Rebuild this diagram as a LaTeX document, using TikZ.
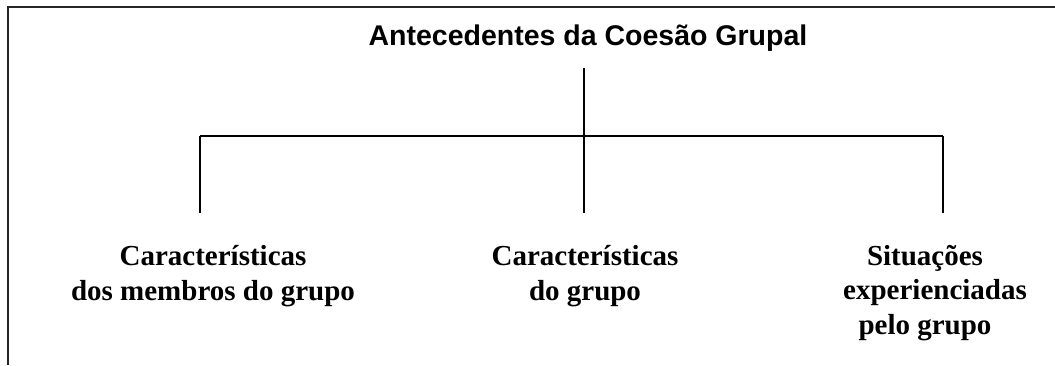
\documentclass[tikz,border=0pt]{standalone}
\usepackage{fontspec}
\setmainfont{Liberation Serif}
\newfontfamily\titlefont{Liberation Sans}
\begin{document}
\begin{tikzpicture}[x=1pt,y=-1pt,
  conn/.style={draw=black,line width=2.2pt},
  frameline/.style={draw=black!85,line width=2.2pt},
  titlebox/.style={inner sep=0pt,font=\titlefont\bfseries\fontsize{28.5}{34}\selectfont},
  labelbox/.style={inner sep=0pt,align=center,font=\bfseries\fontsize{29}{34.5}\selectfont}]
\useasboundingbox (0,0) rectangle (1055,365);
% frame (top and left edges only)
\draw[frameline] (1055,7) -- (8,7) -- (8,365);
% title
\node[titlebox,anchor=base] (title) at (588,45) {Antecedentes da Coesão Grupal};
% connector points
\coordinate (tstart) at (584,68);
\coordinate (jm) at (584,136);
\coordinate (jl) at (200,136);
\coordinate (jr) at (943,136);
\coordinate (el) at (200,213);
\coordinate (em) at (584,213);
\coordinate (er) at (943,213);
\draw[conn] (tstart) -- (jm);
\draw[conn] (jl) -- (jr);
\draw[conn] (jl) -- (el);
\draw[conn] (jm) -- (em);
\draw[conn] (jr) -- (er);
% labels (base anchor = last line baseline)
\node[labelbox,anchor=base] (l1) at (213,300) {Características\\dos membros do grupo};
\node[labelbox,anchor=base] (l2) at (585,300) {Características\\do grupo};
\node[labelbox,anchor=base] (l3) at (925,334) {Situações\\\hspace*{20pt}experienciadas\\pelo grupo};
\end{tikzpicture}
\end{document}
